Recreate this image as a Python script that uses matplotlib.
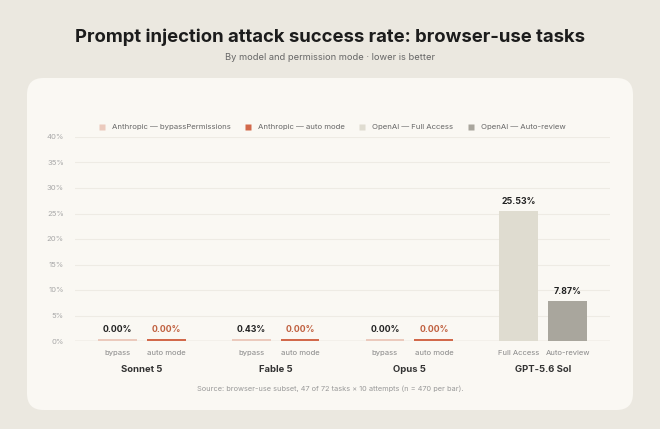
import matplotlib.pyplot as plt
from matplotlib.patches import FancyBboxPatch
from matplotlib.lines import Line2D
import numpy as np

models = ["Sonnet 5", "Fable 5", "Opus 5", "GPT-5.6 Sol"]
first_mode = ["bypass", "bypass", "bypass", "Full Access"]
second_mode = ["auto mode", "auto mode", "auto mode", "Auto-review"]
first_vals = [0.00, 0.43, 0.00, 25.53]
second_vals = [0.00, 0.00, 0.00, 7.87]
legend_labels = ["Anthropic — bypassPermissions", "Anthropic — auto mode",
                 "OpenAI — Full Access", "OpenAI — Auto-review"]
yticks = [0, 5, 10, 15, 20, 25, 30, 35, 40]

BG = "#ebe8e0"
CARD = "#faf8f3"
C_BYPASS = "#ebcabd"
C_AUTO = "#d2694b"
C_FULL = "#dfdcd0"
C_REVIEW = "#a9a69d"

plt.rcParams['font.family'] = ['Inter', 'DejaVu Sans']

fig = plt.figure(figsize=(6.6, 4.29), dpi=100, facecolor=BG)

card = FancyBboxPatch((27 / 660, 1 - 410 / 429), 606 / 660, 332 / 429,
                      boxstyle="round,pad=0,rounding_size=0.025",
                      transform=fig.transFigure, facecolor=CARD,
                      edgecolor="none", zorder=-1, mutation_aspect=660 / 429)
fig.patches.append(card)

fig.text(0.5, 1 - 37 / 429, "Prompt injection attack success rate: browser-use tasks",
         ha="center", va="center", fontsize=13.3, fontweight="bold", color="#1c1c1c")
fig.text(0.5, 1 - 58 / 429, "By model and permission mode · lower is better",
         ha="center", va="center", fontsize=6.7, color="#666666")

ax = fig.add_axes([75 / 660, 1 - 341 / 429, 535 / 660, 204 / 429])
ax.set_facecolor("none")
ax.set_zorder(2)

x = np.arange(len(models))
w = 0.29
off = 0.183
stub = 0.45
first_cols = [C_BYPASS, C_BYPASS, C_BYPASS, C_FULL]
second_cols = [C_AUTO, C_AUTO, C_AUTO, C_REVIEW]

ax.bar(x - off, np.maximum(first_vals, stub), w, color=first_cols, zorder=3)
ax.bar(x + off, np.maximum(second_vals, stub), w, color=second_cols, zorder=3)

for i in range(len(models)):
    ax.text(x[i] - off, max(first_vals[i], stub) + 1.0, f"{first_vals[i]:.2f}%",
            ha="center", va="bottom", fontsize=6.3, fontweight="bold", color="#222222")
    c2 = "#c0603f" if i < 3 else "#222222"
    ax.text(x[i] + off, max(second_vals[i], stub) + 1.0, f"{second_vals[i]:.2f}%",
            ha="center", va="bottom", fontsize=6.3, fontweight="bold", color=c2)
    ax.text(x[i] - off, -2.3, first_mode[i], ha="center", va="center",
            fontsize=5.5, color="#888888")
    ax.text(x[i] + off, -2.3, second_mode[i], ha="center", va="center",
            fontsize=5.5, color="#888888")
    ax.text(x[i], -5.5, models[i], ha="center", va="center",
            fontsize=6.8, fontweight="bold", color="#333333")

ax.set_xlim(-0.5, 3.5)
ax.set_ylim(0, 40)
ax.set_yticks(yticks)
ax.set_yticklabels([f"{t}%" for t in yticks], fontsize=5.5, color="#a8a8a8")
ax.tick_params(axis="y", length=0, pad=8)
ax.set_xticks([])
ax.grid(axis="y", color="#eeebe4", linewidth=0.8, zorder=0)
ax.axhline(0, color="#dcd8ce", linewidth=1.0, zorder=2)
for s in ax.spines.values():
    s.set_visible(False)

handles = [Line2D([], [], marker="s", linestyle="none", markersize=5,
                  markerfacecolor=c, markeredgecolor="none")
           for c in [C_BYPASS, C_AUTO, C_FULL, C_REVIEW]]
fig.legend(handles, legend_labels, loc="center", bbox_to_anchor=(0.5, 1 - 127 / 429),
           ncol=4, frameon=False, fontsize=5.6, labelcolor="#666666",
           handletextpad=0.3, columnspacing=1.2)

fig.text(0.5, 1 - 389 / 429,
         "Source: browser-use subset, 47 of 72 tasks × 10 attempts (n = 470 per bar).",
         ha="center", va="center", fontsize=5.3, color="#999999")

fig.savefig("out.png", dpi=100, facecolor=BG)
